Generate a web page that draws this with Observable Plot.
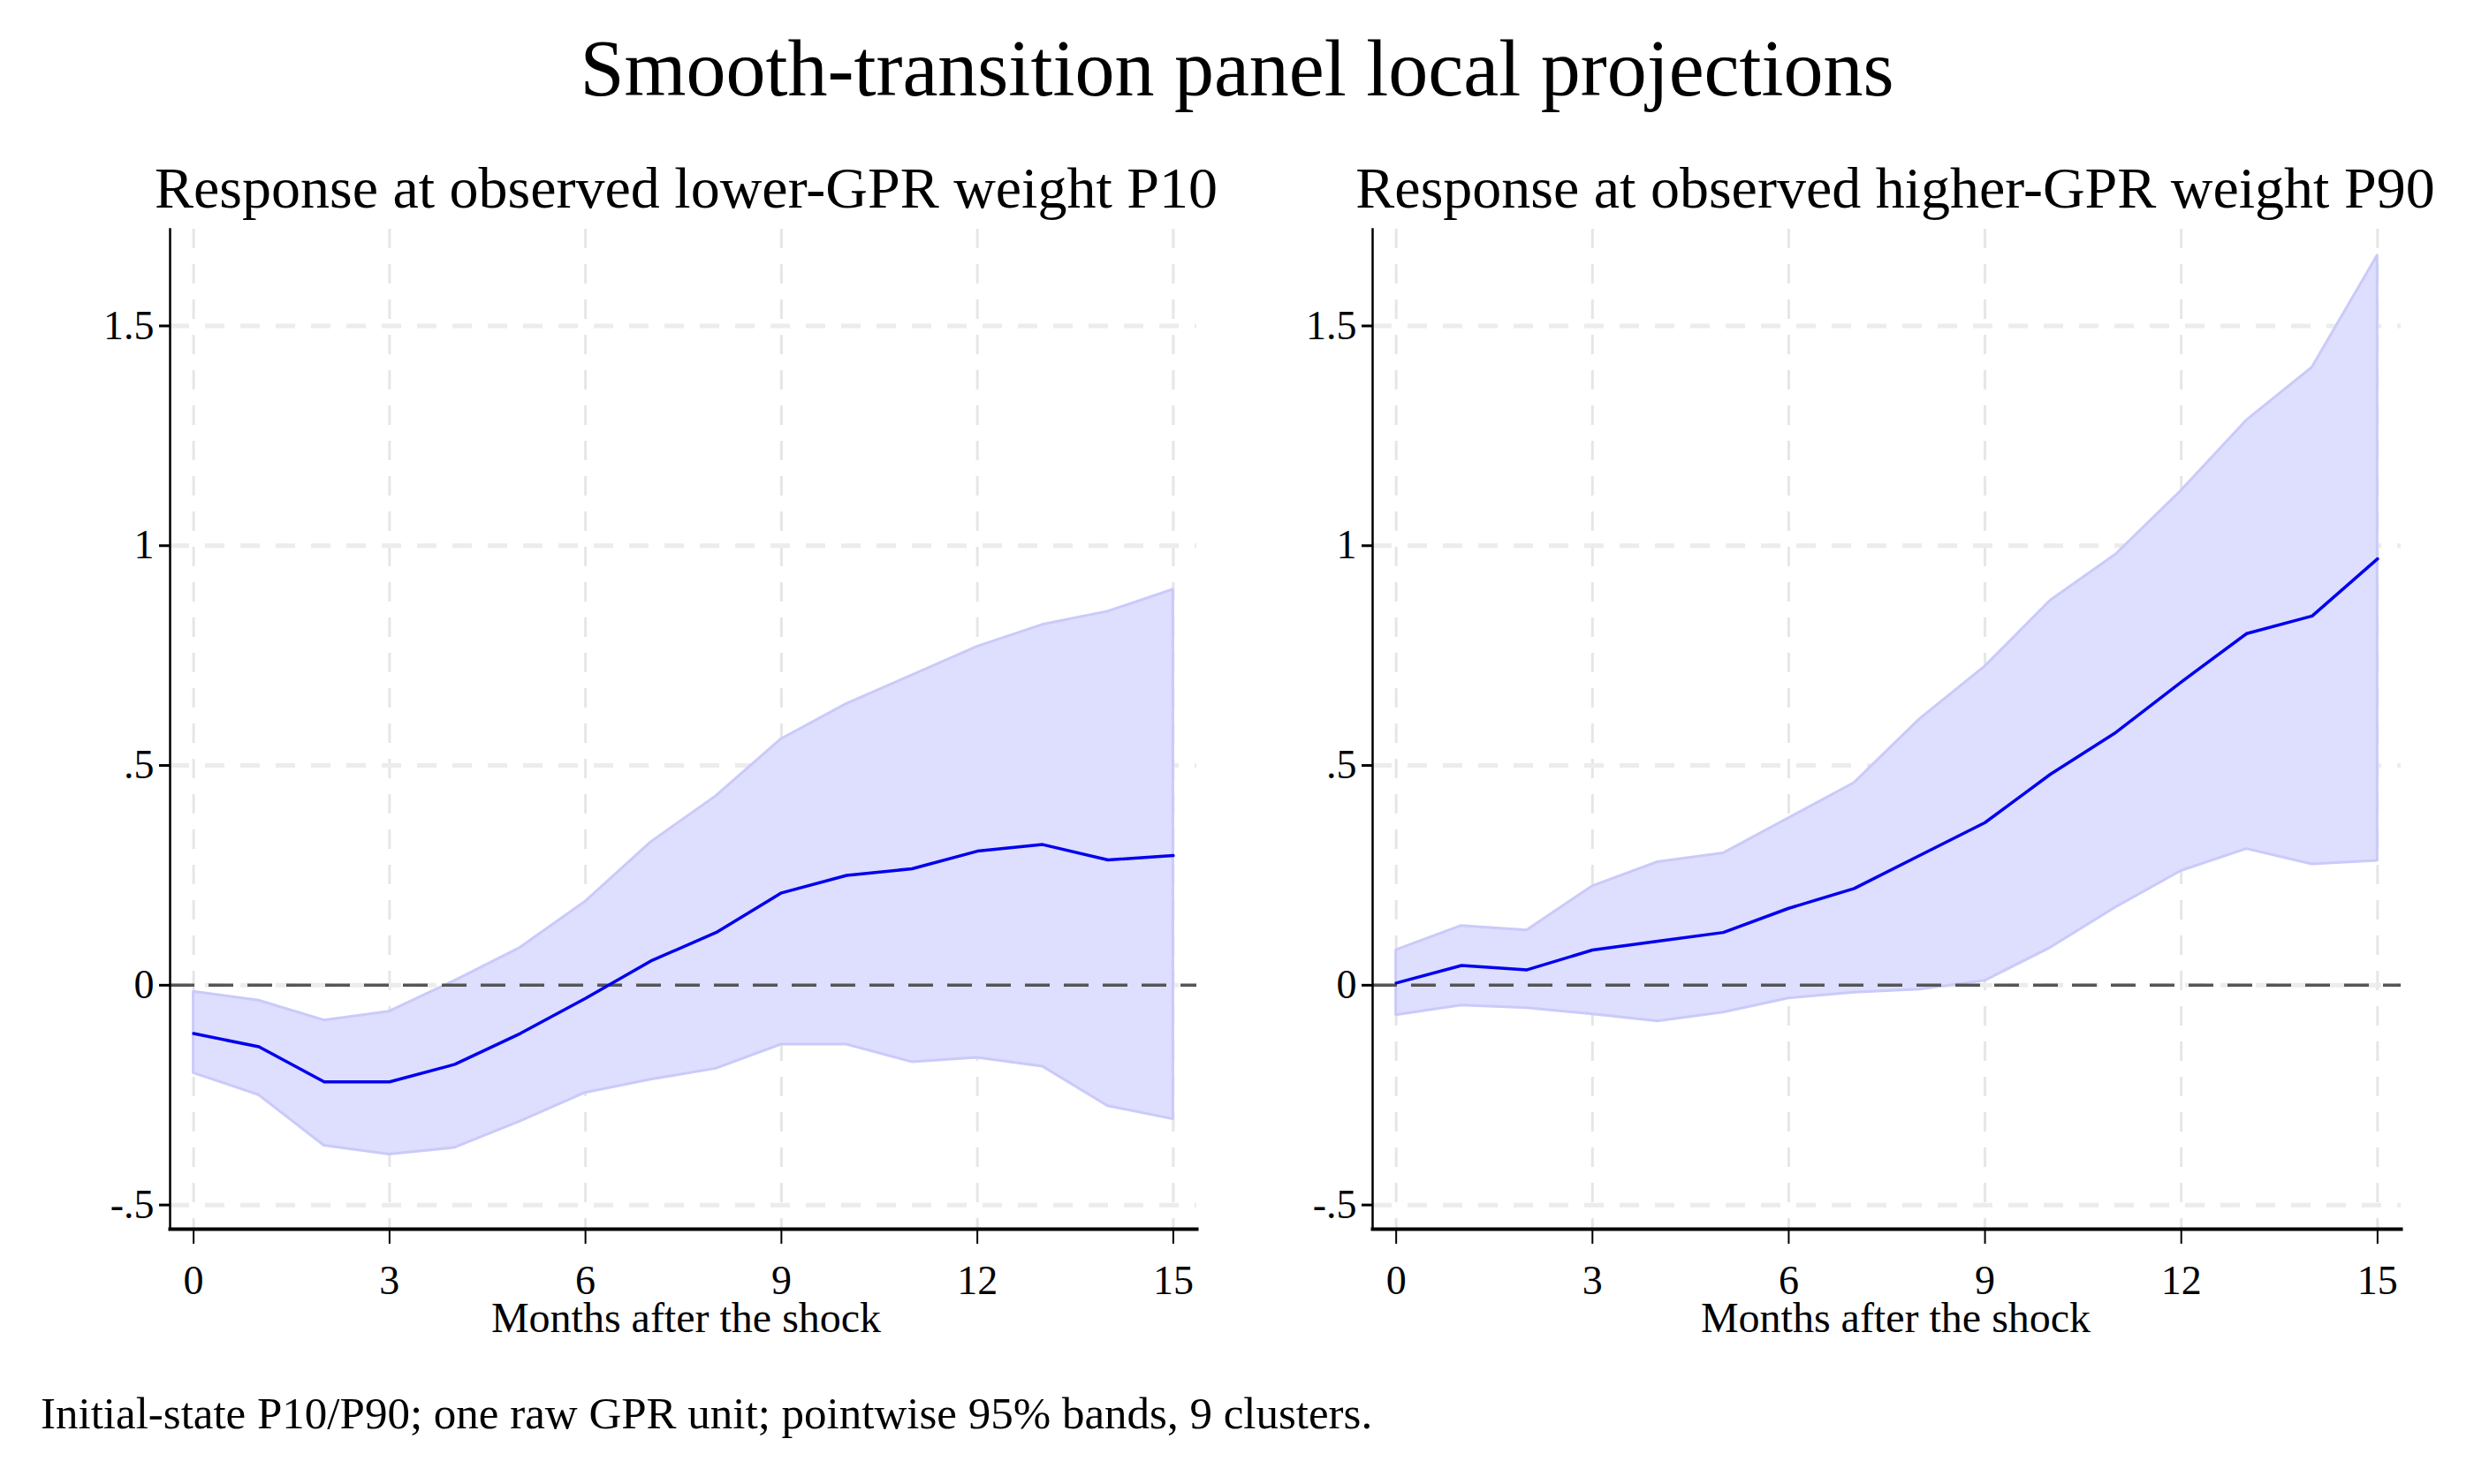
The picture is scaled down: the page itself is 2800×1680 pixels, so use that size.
<!DOCTYPE html>
<html><head><meta charset="utf-8">
<script src="https://cdn.jsdelivr.net/npm/d3@7"></script>
<script src="https://cdn.jsdelivr.net/npm/@observablehq/plot@0.6"></script>
<style>
body{margin:0;background:#fff;}
#wrap{position:relative;width:2800px;height:1680px;font-family:"Liberation Serif",serif;color:#000;}
.t{position:absolute;white-space:nowrap;}
.p{position:absolute;top:0;}
</style></head><body>
<div id="wrap">
<div class="t" style="left:0;width:2800px;text-align:center;top:28px;font-size:90px;line-height:100px;">Smooth-transition panel local projections</div>
<div class="t" style="left:167px;width:1219px;text-align:center;top:178px;font-size:66px;line-height:70px;">Response at observed lower-GPR weight P10</div>
<div class="t" style="left:1525px;width:1240px;text-align:center;top:178px;font-size:66px;line-height:70px;">Response at observed higher-GPR weight P90</div>
<div class="t" style="left:192px;width:1169px;text-align:center;top:1466px;font-size:48px;line-height:52px;">Months after the shock</div>
<div class="t" style="left:1560px;width:1171px;text-align:center;top:1466px;font-size:48px;line-height:52px;">Months after the shock</div>
<div class="t" style="left:46px;top:1572px;font-size:51px;line-height:56px;">Initial-state P10/P90; one raw GPR unit; pointwise 95% bands, 9 clusters.</div>
<div class="p" id="left" style="left:0"></div>
<div class="p" id="right" style="left:1400px"></div>
</div>
<script>
const months = d3.range(0,16);
const p10Mid = [-0.11,-0.14,-0.22,-0.22,-0.18,-0.11,-0.03,0.055,0.12,0.21,0.25,0.265,0.305,0.32,0.285,0.295];
const p10Hi  = [-0.015,-0.035,-0.08,-0.06,0.01,0.085,0.19,0.325,0.43,0.56,0.64,0.705,0.77,0.82,0.85,0.9];
const p10Lo  = [-0.2,-0.25,-0.365,-0.385,-0.37,-0.31,-0.245,-0.215,-0.19,-0.135,-0.135,-0.175,-0.165,-0.185,-0.275,-0.305];
const p90Mid = [0.005,0.045,0.035,0.08,0.1,0.12,0.175,0.22,0.295,0.37,0.48,0.575,0.69,0.8,0.84,0.97];
const p90Hi  = [0.08,0.135,0.125,0.225,0.28,0.3,0.38,0.46,0.605,0.725,0.875,0.98,1.125,1.285,1.405,1.66];
const p90Lo  = [-0.068,-0.046,-0.052,-0.066,-0.082,-0.062,-0.03,-0.017,-0.01,0.01,0.085,0.177,0.26,0.31,0.275,0.283];
const xTicks = [0,3,6,9,12,15];
const yTicks = [-0.5,0,0.5,1,1.5];
const yLabels = ["-.5","0",".5","1","1.5"];

function panel(mid, lo, hi, ml, mr){
  const data = months.map((m,i)=>({m, mid:mid[i], lo:lo[i], hi:hi[i]}));
  return Plot.plot({
    width:1400, height:1680,
    marginTop:259, marginBottom:289, marginLeft:ml, marginRight:mr,
    style:{fontFamily:"Liberation Serif, serif", fontSize:"46px", color:"#000", background:"transparent"},
    x:{domain:[-0.36,15.36]},
    y:{domain:[-0.555,1.72]},
    marks:[
      Plot.gridX(xTicks,{stroke:"#e6e6e6", strokeOpacity:1, strokeWidth:3, strokeDasharray:"22,18"}),
      Plot.gridY(yTicks,{stroke:"#ececec", strokeOpacity:1, strokeWidth:5, strokeDasharray:"22,18"}),
      Plot.areaY(data,{x:"m", y1:"lo", y2:"hi", fill:"#dedefe", fillOpacity:1, stroke:"#cacafa", strokeWidth:3}),
      Plot.ruleY([0],{stroke:"#555", strokeWidth:3.5, strokeDasharray:"28,16"}),
      Plot.line(data,{x:"m", y:"mid", stroke:"#0000ee", strokeWidth:3.5}),
      Plot.frame({anchor:"left", stroke:"#000", strokeWidth:2.5}),
      Plot.frame({anchor:"bottom", stroke:"#000", strokeWidth:4}),
      Plot.axisX(xTicks,{tickSize:17, tickPadding:24, strokeWidth:2, label:null, fontSize:46}),
      Plot.axisY(yTicks,{tickSize:12, tickPadding:6, strokeWidth:3, label:null, fontSize:46,
        tickFormat:d=>yLabels[yTicks.indexOf(d)]})
    ]
  });
}
document.getElementById("left").append(panel(p10Mid,p10Lo,p10Hi,192,46));
document.getElementById("right").append(panel(p90Mid,p90Lo,p90Hi,153,83));
</script>
</body></html>
